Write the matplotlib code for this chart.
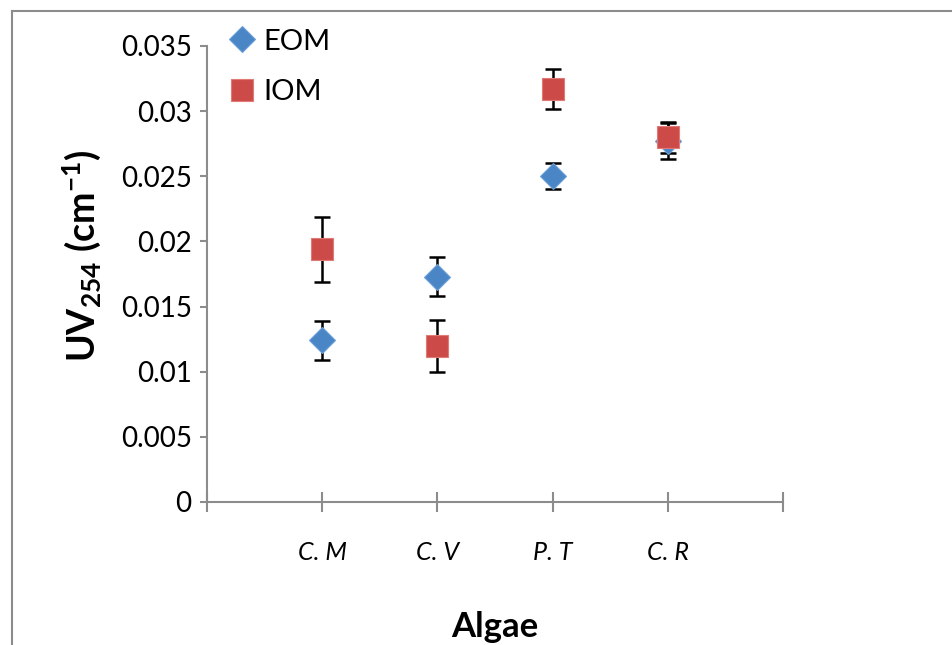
import numpy as np
import matplotlib
matplotlib.use('Agg')
import matplotlib.pyplot as plt
from matplotlib.lines import Line2D
from matplotlib.ticker import FuncFormatter

plt.rcParams['font.family'] = ['Lato', 'DejaVu Sans']
plt.rcParams['mathtext.fontset'] = 'custom'
plt.rcParams['mathtext.rm'] = 'Lato'
plt.rcParams['mathtext.bf'] = 'Lato:bold'
plt.rcParams['mathtext.it'] = 'Lato:italic'

algae = ['C. M', 'C. V', 'P. T', 'C. R']
eom = [0.0124, 0.0173, 0.0250, 0.0277]
eom_err = [0.0015, 0.0015, 0.0010, 0.0014]
iom = [0.0194, 0.0120, 0.0317, 0.0280]
iom_err = [0.0025, 0.0020, 0.0015, 0.0012]

blue = '#4a85c6'
red = '#cc4b48'
grey = '#8c8c8c'

fig = plt.figure(figsize=(9.52, 6.45), dpi=100)
ax = fig.add_axes([207 / 952, 1 - 502 / 645, 576 / 952, 456 / 645])

x = np.arange(1, len(algae) + 1)

# error bars first, markers on top
ax.errorbar(x, eom, yerr=eom_err, fmt='none', ecolor='black', elinewidth=1.8,
            capsize=5.5, capthick=1.8, zorder=2)
ax.errorbar(x, iom, yerr=iom_err, fmt='none', ecolor='black', elinewidth=1.8,
            capsize=5.5, capthick=1.8, zorder=2)
ax.plot(x, eom, linestyle='none', marker='D', markersize=13, color=blue,
        markeredgecolor='#6a9fd8', markeredgewidth=0.8, label='EOM', zorder=3)
ax.plot(x, iom, linestyle='none', marker='s', markersize=16, color=red,
        markeredgecolor='#e07a77', markeredgewidth=0.8, label='IOM', zorder=4)

ax.set_xlim(0, 5)
ax.set_ylim(0, 0.035)
ax.set_xticks(np.arange(0, 6))
ax.set_xticklabels([''] + algae + [''], fontstyle='italic', fontsize=18)
ax.set_yticks(np.arange(0, 0.0351, 0.005))
ax.yaxis.set_major_formatter(FuncFormatter(lambda v, p: '%g' % round(v, 4)))
ax.tick_params(axis='y', labelsize=20, direction='out', length=5, color=grey, width=1.5, pad=6)
ax.tick_params(axis='x', direction='inout', length=14, color=grey, width=1.5, pad=21)

for s in ['top', 'right']:
    ax.spines[s].set_visible(False)
for s in ['left', 'bottom']:
    ax.spines[s].set_color(grey)
    ax.spines[s].set_linewidth(1.5)

ax.set_xlabel('Algae', fontsize=25, fontweight='bold', labelpad=34)
ax.set_ylabel(r'UV$_{\mathbf{254}}$ (cm$^{\mathbf{-1}}$)', fontsize=27, fontweight='bold')
ax.yaxis.set_label_coords(-0.18, 0.54)

fig.legend(loc='upper left', bbox_to_anchor=(208 / 952, 1 - 17 / 645), frameon=False,
           fontsize=21, handletextpad=0.0, labelspacing=0.85, handlelength=1.5,
           borderaxespad=0)

# grey frame around the chart area
fig.add_artist(Line2D([12 / 952, 12 / 952], [0, 1 - 11 / 645], color=grey, lw=1.5))
fig.add_artist(Line2D([12 / 952, 1], [1 - 11 / 645, 1 - 11 / 645], color=grey, lw=1.5))

fig.savefig('out.png', dpi=100)
